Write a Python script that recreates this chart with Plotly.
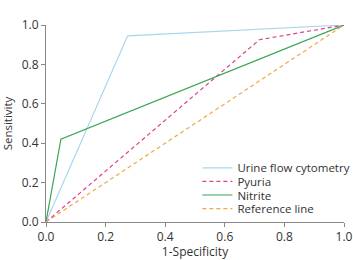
import plotly.graph_objects as go

ufc_x = [0, 0.274, 1.0]
ufc_y = [0, 0.945, 1.0]
pyuria_x = [0, 0.716, 1.0]
pyuria_y = [0, 0.925, 1.0]
nitrite_x = [0, 0.05, 1.0]
nitrite_y = [0, 0.42, 1.0]
ref_x = [0, 1.0]
ref_y = [0, 1.0]
ticks = [0.0, 0.2, 0.4, 0.6, 0.8, 1.0]
ticklabels = ["0.0", "0.2", "0.4", "0.6", "0.8", "1.0"]

fig = go.Figure()
fig.add_trace(go.Scatter(x=ufc_x, y=ufc_y, mode="lines", name="Urine flow cytometry",
                         legend="legend", line=dict(color="#a9d6ee", width=1.2)))
fig.add_trace(go.Scatter(x=pyuria_x, y=pyuria_y, mode="lines", name="Pyuria",
                         legend="legend2", line=dict(color="#e0408c", width=1.2, dash="4px,3px")))
fig.add_trace(go.Scatter(x=nitrite_x, y=nitrite_y, mode="lines", name="Nitrite",
                         legend="legend3", line=dict(color="#3aa655", width=1.2)))
fig.add_trace(go.Scatter(x=ref_x, y=ref_y, mode="lines", name="Reference line",
                         legend="legend4", line=dict(color="#f0a848", width=1.2, dash="4px,3px")))

font = dict(family="Open Sans, sans-serif", size=12, color="#333333")
leg_common = dict(x=0.508, xanchor="left", yanchor="middle", bgcolor="rgba(0,0,0,0)",
                  font=dict(size=11.5, color="#333333"), itemwidth=30)
fig.update_layout(
    width=353, height=260,
    margin=dict(l=46, r=9, t=25, b=38, autoexpand=False),
    paper_bgcolor="white", plot_bgcolor="white",
    font=font,
    showlegend=True,
    legend=dict(y=0.275, **leg_common),
    legend2=dict(y=0.206, **leg_common),
    legend3=dict(y=0.137, **leg_common),
    legend4=dict(y=0.068, **leg_common),
    xaxis=dict(range=[0, 1], tickvals=ticks, ticktext=ticklabels, showgrid=False,
               zeroline=False, showline=True, linecolor="#888888", linewidth=1,
               ticks="outside", ticklen=4, tickcolor="#888888",
               ticklabeloverflow="allow",
               title=dict(text="1-Specificity", standoff=9, font=dict(size=12))),
    yaxis=dict(range=[0, 1], tickvals=ticks, ticktext=ticklabels, showgrid=False,
               zeroline=False, showline=True, linecolor="#888888", linewidth=1,
               ticks="outside", ticklen=4, tickcolor="#888888",
               title=dict(text="Sensitivity", standoff=6, font=dict(size=11.5))),
)
fig.write_html("out.html")
